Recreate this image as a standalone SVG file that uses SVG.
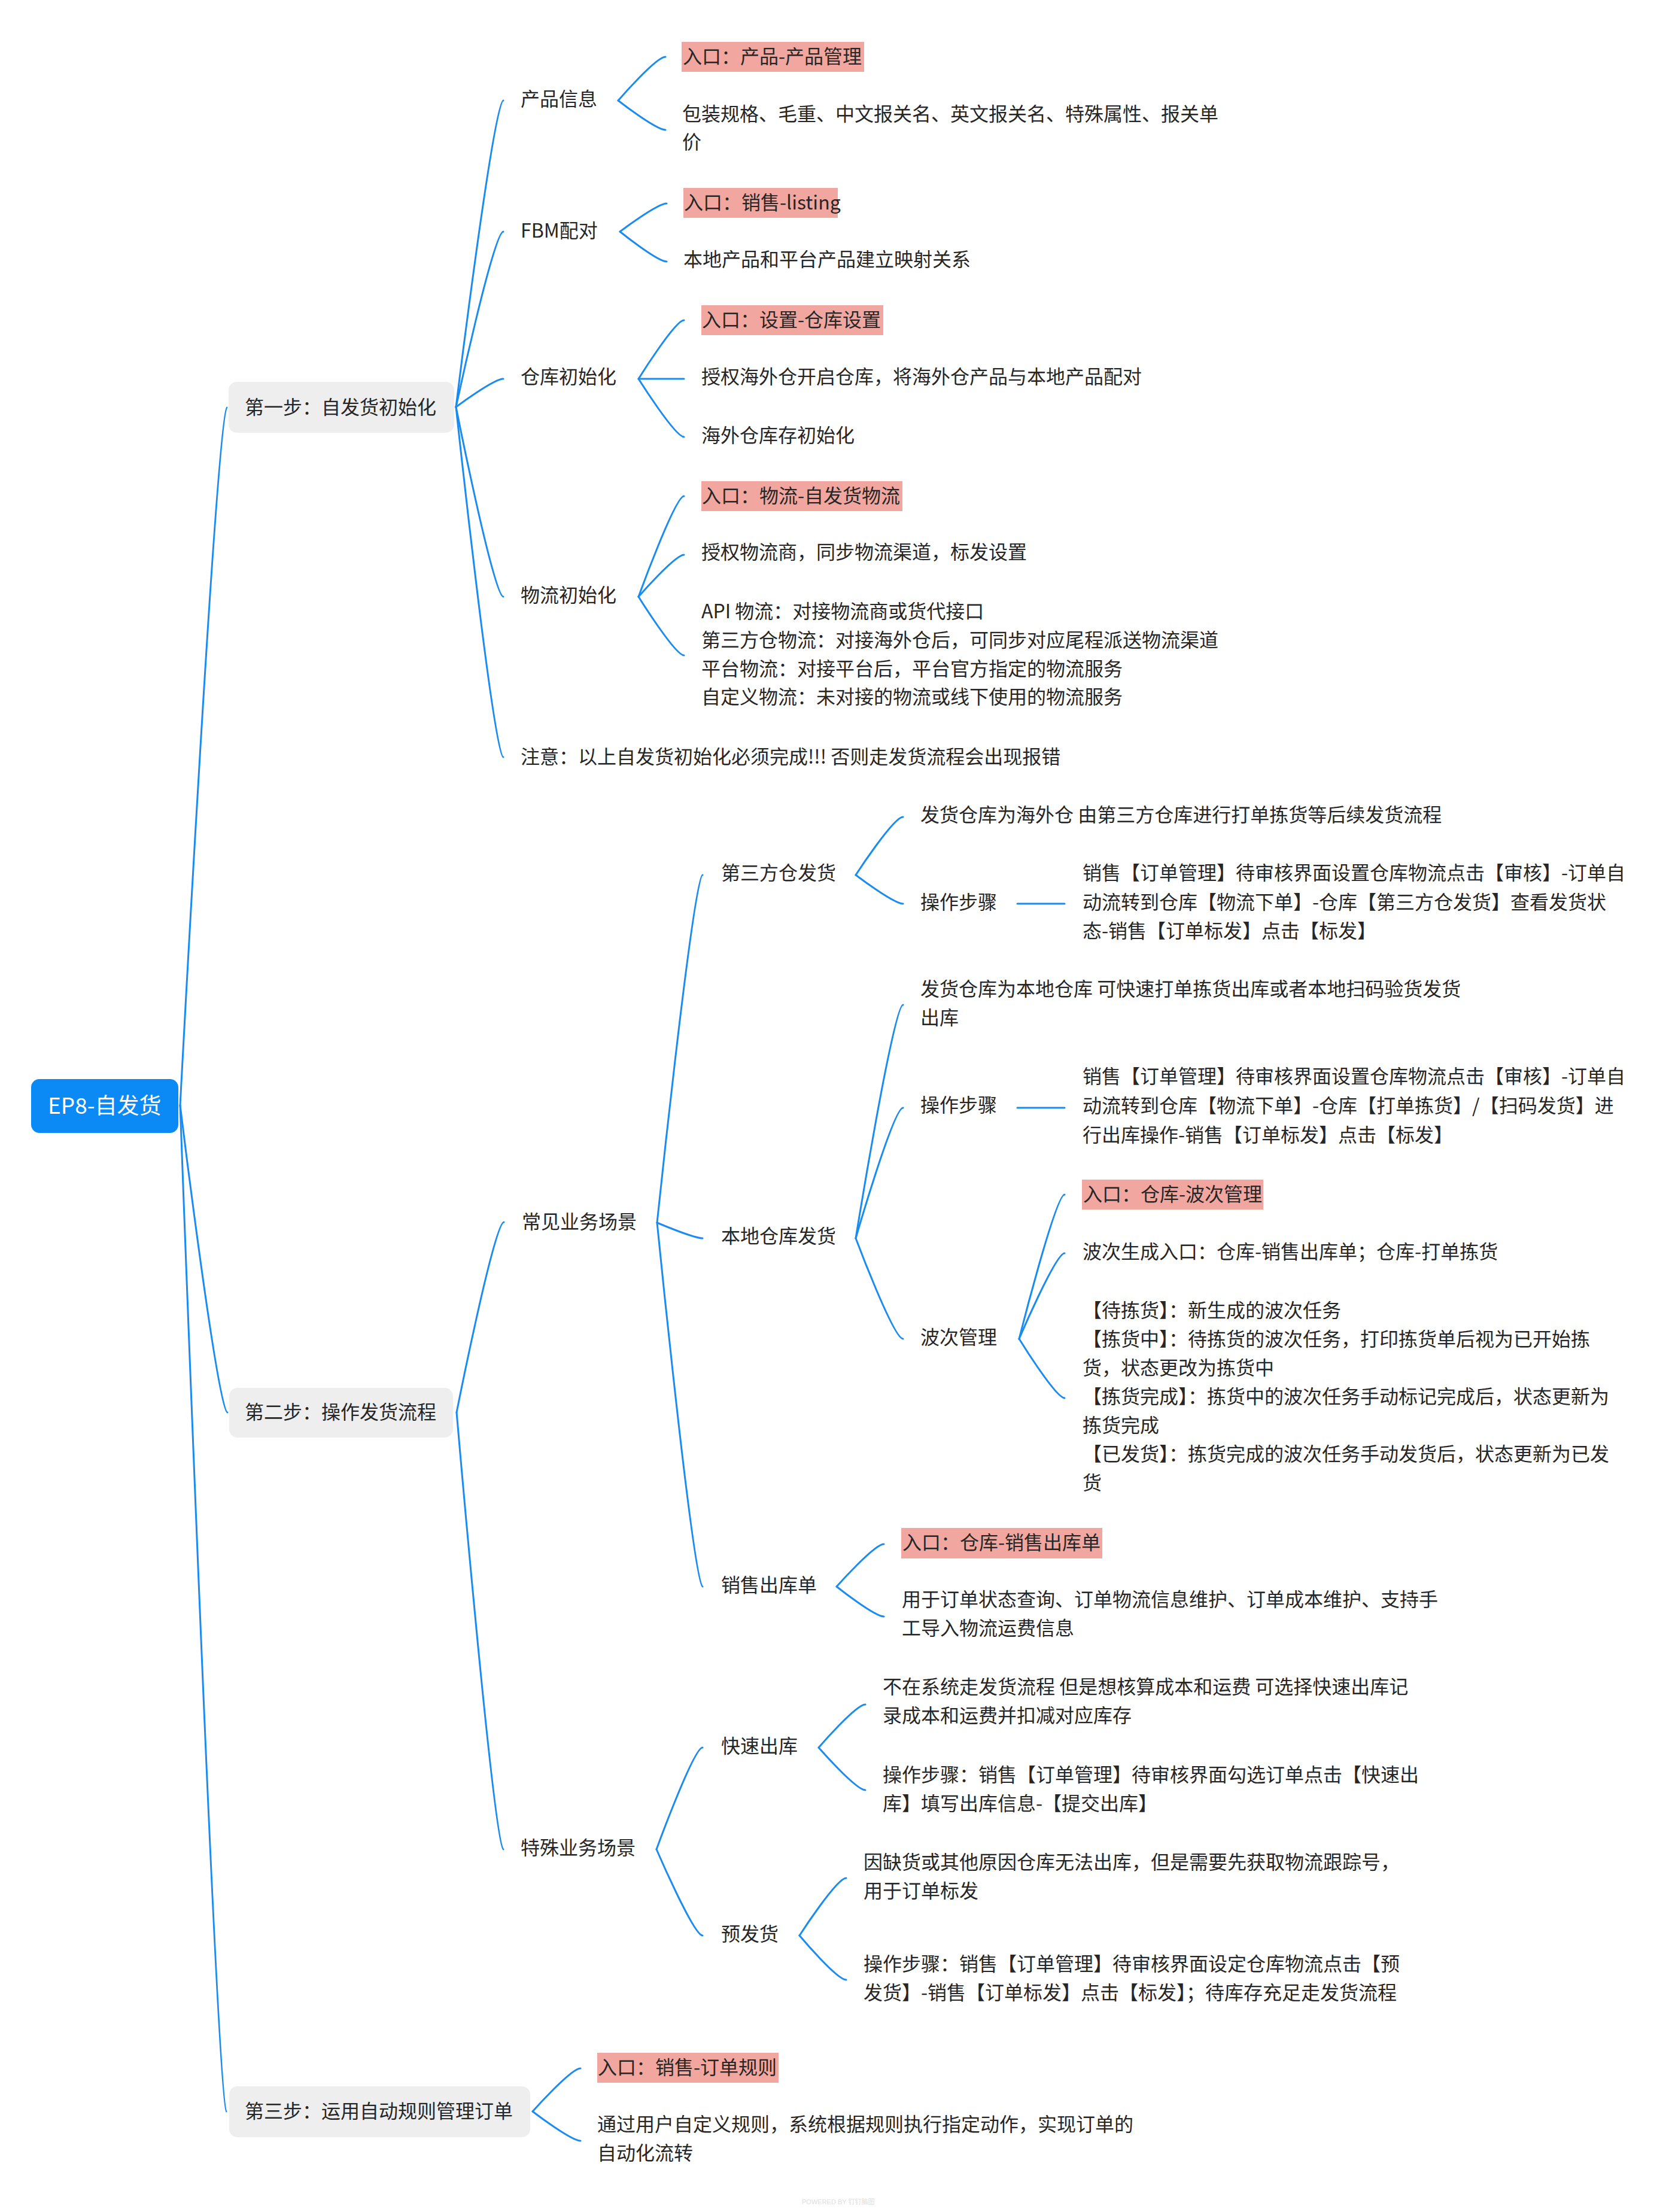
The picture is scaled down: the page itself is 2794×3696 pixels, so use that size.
<svg xmlns="http://www.w3.org/2000/svg" width="2794" height="3696" viewBox="0 0 2794 3696">
<style>
.t{font-family:"Noto Sans CJK SC","Noto Sans",sans-serif;font-size:32px;fill:#262626;dominant-baseline:central;transform:translate(0px,-3px)}
.root{font-family:"Noto Sans CJK SC","Noto Sans",sans-serif;font-size:37px;fill:#ffffff;dominant-baseline:central;transform:translate(0px,-2px)}
.gb{fill:#EEEEEE}
.pk{fill:#F1A79F}
.c{fill:none;stroke:#1A8BF0;stroke-width:3;stroke-linecap:round}
.wm{font-family:"Liberation Sans","Noto Sans CJK SC",sans-serif;font-size:11px;fill:#dedede;dominant-baseline:central}
</style>
<rect width="2794" height="3696" fill="#ffffff"/>
<g id="connectors">
<path class="c" d="M301 1847 C301 1847 363 681 379 681"/>
<path class="c" d="M301 1847 C301 1847 364 2360 380 2360"/>
<path class="c" d="M301 1847 C301 1847 363 3528 378 3528"/>
<path class="c" d="M762 680 C762 680 825 168 841 168"/>
<path class="c" d="M762 680 C762 680 825 387 841 387"/>
<path class="c" d="M762 680 C762 680 825 633 841 633"/>
<path class="c" d="M762 680 C762 680 825 997 841 997"/>
<path class="c" d="M762 680 C762 680 825 1265 841 1265"/>
<path class="c" d="M763 2360 C763 2360 826 2042 842 2042"/>
<path class="c" d="M763 2360 C763 2360 826 3090 841 3090"/>
<path class="c" d="M1098 2043 C1098 2043 1159 1462 1174 1462"/>
<path class="c" d="M1098 2043 C1098 2043 1159 2069 1174 2069"/>
<path class="c" d="M1098 2043 C1098 2043 1159 2651 1174 2651"/>
<path class="c" d="M1097 3090 C1097 3090 1159 2920 1174 2920"/>
<path class="c" d="M1097 3090 C1097 3090 1159 3234 1174 3234"/>
<path class="c" d="M890 3528 C890 3528 954 3456 970 3456"/>
<path class="c" d="M890 3528 C890 3528 954 3577 970 3577"/>
<path class="c" d="M1033 168 C1033 168 1096 95 1112 95"/>
<path class="c" d="M1033 168 C1033 168 1096 217 1112 217"/>
<path class="c" d="M1036 387 C1036 387 1098 340 1114 340"/>
<path class="c" d="M1036 387 C1036 387 1098 437 1114 437"/>
<path class="c" d="M1067 633 C1067 633 1128 535 1143 535"/>
<path class="c" d="M1067 633 L1143 633"/>
<path class="c" d="M1067 633 C1067 633 1128 730 1143 730"/>
<path class="c" d="M1067 997 C1067 997 1128 829 1143 829"/>
<path class="c" d="M1067 997 C1067 997 1128 927 1143 927"/>
<path class="c" d="M1067 997 C1067 997 1128 1095 1143 1095"/>
<path class="c" d="M1430 1462 C1430 1462 1493 1365 1509 1365"/>
<path class="c" d="M1430 1462 C1430 1462 1493 1510 1509 1510"/>
<path class="c" d="M1700 1510 L1779 1510"/>
<path class="c" d="M1430 2069 C1430 2069 1493 1679 1509 1679"/>
<path class="c" d="M1430 2069 C1430 2069 1493 1851 1509 1851"/>
<path class="c" d="M1430 2069 C1430 2069 1493 2237 1509 2237"/>
<path class="c" d="M1700 1851 L1779 1851"/>
<path class="c" d="M1703 2237 C1703 2237 1764 1996 1779 1996"/>
<path class="c" d="M1703 2237 C1703 2237 1764 2094 1779 2094"/>
<path class="c" d="M1703 2237 C1703 2237 1764 2336 1779 2336"/>
<path class="c" d="M1398 2651 C1398 2651 1461 2580 1477 2580"/>
<path class="c" d="M1398 2651 C1398 2651 1461 2701 1477 2701"/>
<path class="c" d="M1368 2920 C1368 2920 1430 2848 1446 2848"/>
<path class="c" d="M1368 2920 C1368 2920 1430 2991 1446 2991"/>
<path class="c" d="M1336 3234 C1336 3234 1398 3138 1414 3138"/>
<path class="c" d="M1336 3234 C1336 3234 1398 3308 1414 3308"/>
</g>
<g id="root">
<rect x="52" y="1803" width="246" height="90" rx="14" fill="#0B8AF6"/>
<text class="root" x="80" y="1847">EP8-自发货</text>
</g>
<g id="step1">
<rect class="gb" x="382" y="638" width="377" height="85" rx="14"/>
<text class="t" x="409" y="681">第一步：自发货初始化</text>
</g>
<g id="step2">
<rect class="gb" x="383" y="2319" width="374" height="83" rx="14"/>
<text class="t" x="409" y="2360">第二步：操作发货流程</text>
</g>
<g id="step3">
<rect class="gb" x="383" y="3486" width="503" height="85" rx="14"/>
<text class="t" x="409" y="3528">第三步：运用自动规则管理订单</text>
</g>
<g id="n-product"><text class="t" x="870" y="166">产品信息</text></g>
<g id="n-fbm"><text class="t" x="870" y="386">FBM配对</text></g>
<g id="n-wh-init"><text class="t" x="870" y="630">仓库初始化</text></g>
<g id="n-log-init"><text class="t" x="870" y="995">物流初始化</text></g>
<g id="n-note"><text class="t" x="870" y="1265">注意：以上自发货初始化必须完成!!! 否则走发货流程会出现报错</text></g>
<g id="n-common"><text class="t" x="872" y="2042">常见业务场景</text></g>
<g id="n-special"><text class="t" x="870" y="3088">特殊业务场景</text></g>
<g id="n-entry-product">
<rect class="pk" x="1139" y="70" width="305" height="50"/>
<text class="t" x="1141" y="95">入口：产品-产品管理</text>
</g>
<g id="n-product-fields">
<text class="t"><tspan x="1140" y="191">包装规格、毛重、中文报关名、英文报关名、特殊属性、报关单</tspan><tspan x="1140" y="238">价</tspan></text>
</g>
<g id="n-entry-listing">
<rect class="pk" x="1142" y="314" width="258" height="50"/>
<text class="t" x="1143" y="339">入口：销售-listing</text>
</g>
<g id="n-mapping"><text class="t" x="1142" y="434">本地产品和平台产品建立映射关系</text></g>
<g id="n-entry-wh">
<rect class="pk" x="1172" y="510" width="304" height="50"/>
<text class="t" x="1173" y="535">入口：设置-仓库设置</text>
</g>
<g id="n-auth-wh"><text class="t" x="1172" y="630">授权海外仓开启仓库，将海外仓产品与本地产品配对</text></g>
<g id="n-wh-stock"><text class="t" x="1172" y="728">海外仓库存初始化</text></g>
<g id="n-entry-log">
<rect class="pk" x="1172" y="804" width="336" height="50"/>
<text class="t" x="1173" y="829">入口：物流-自发货物流</text>
</g>
<g id="n-auth-log"><text class="t" x="1172" y="923">授权物流商，同步物流渠道，标发设置</text></g>
<g id="n-log-types">
<text class="t"><tspan x="1172" y="1022">API 物流：对接物流商或货代接口</tspan><tspan x="1172" y="1070">第三方仓物流：对接海外仓后，可同步对应尾程派送物流渠道</tspan><tspan x="1172" y="1118">平台物流：对接平台后，平台官方指定的物流服务</tspan><tspan x="1172" y="1165">自定义物流：未对接的物流或线下使用的物流服务</tspan></text>
</g>
<g id="n-3pl"><text class="t" x="1205" y="1459">第三方仓发货</text></g>
<g id="n-3pl-desc"><text class="t" x="1538" y="1362">发货仓库为海外仓 由第三方仓库进行打单拣货等后续发货流程</text></g>
<g id="n-3pl-steps"><text class="t" x="1538" y="1508">操作步骤</text></g>
<g id="n-3pl-steps-text">
<text class="t"><tspan x="1809" y="1459">销售【订单管理】待审核界面设置仓库物流点击【审核】-订单自</tspan><tspan x="1809" y="1508">动流转到仓库【物流下单】-仓库【第三方仓发货】查看发货状</tspan><tspan x="1809" y="1556">态-销售【订单标发】点击【标发】</tspan></text>
</g>
<g id="n-local"><text class="t" x="1205" y="2066">本地仓库发货</text></g>
<g id="n-local-desc">
<text class="t"><tspan x="1538" y="1653">发货仓库为本地仓库 可快速打单拣货出库或者本地扫码验货发货</tspan><tspan x="1538" y="1701">出库</tspan></text>
</g>
<g id="n-local-steps"><text class="t" x="1538" y="1847">操作步骤</text></g>
<g id="n-local-steps-text">
<text class="t"><tspan x="1809" y="1799">销售【订单管理】待审核界面设置仓库物流点击【审核】-订单自</tspan><tspan x="1809" y="1848">动流转到仓库【物流下单】-仓库【打单拣货】/【扫码发货】进</tspan><tspan x="1809" y="1897">行出库操作-销售【订单标发】点击【标发】</tspan></text>
</g>
<g id="n-wave"><text class="t" x="1538" y="2235">波次管理</text></g>
<g id="n-entry-wave">
<rect class="pk" x="1808" y="1971" width="303" height="50"/>
<text class="t" x="1810" y="1996">入口：仓库-波次管理</text>
</g>
<g id="n-wave-entry"><text class="t" x="1809" y="2092">波次生成入口：仓库-销售出库单；仓库-打单拣货</text></g>
<g id="n-wave-status">
<text class="t"><tspan x="1809" y="2190">【待拣货】：新生成的波次任务</tspan><tspan x="1809" y="2238">【拣货中】：待拣货的波次任务，打印拣货单后视为已开始拣</tspan><tspan x="1809" y="2286">货，状态更改为拣货中</tspan><tspan x="1809" y="2334">【拣货完成】：拣货中的波次任务手动标记完成后，状态更新为</tspan><tspan x="1809" y="2382">拣货完成</tspan><tspan x="1809" y="2430">【已发货】：拣货完成的波次任务手动发货后，状态更新为已发</tspan><tspan x="1809" y="2478">货</tspan></text>
</g>
<g id="n-outbound"><text class="t" x="1205" y="2649">销售出库单</text></g>
<g id="n-entry-outbound">
<rect class="pk" x="1506" y="2553" width="336" height="51"/>
<text class="t" x="1508" y="2578">入口：仓库-销售出库单</text>
</g>
<g id="n-outbound-desc">
<text class="t"><tspan x="1507" y="2673">用于订单状态查询、订单物流信息维护、订单成本维护、支持手</tspan><tspan x="1507" y="2721">工导入物流运费信息</tspan></text>
</g>
<g id="n-quick"><text class="t" x="1205" y="2918">快速出库</text></g>
<g id="n-quick-desc">
<text class="t"><tspan x="1475" y="2819">不在系统走发货流程 但是想核算成本和运费 可选择快速出库记</tspan><tspan x="1475" y="2867">录成本和运费并扣减对应库存</tspan></text>
</g>
<g id="n-quick-steps">
<text class="t"><tspan x="1475" y="2966">操作步骤：销售【订单管理】待审核界面勾选订单点击【快速出</tspan><tspan x="1475" y="3014">库】填写出库信息-【提交出库】</tspan></text>
</g>
<g id="n-pre"><text class="t" x="1205" y="3232">预发货</text></g>
<g id="n-pre-desc">
<text class="t"><tspan x="1443" y="3112">因缺货或其他原因仓库无法出库，但是需要先获取物流跟踪号，</tspan><tspan x="1443" y="3160">用于订单标发</tspan></text>
</g>
<g id="n-pre-steps">
<text class="t"><tspan x="1443" y="3282">操作步骤：销售【订单管理】待审核界面设定仓库物流点击【预</tspan><tspan x="1443" y="3330">发货】-销售【订单标发】点击【标发】；待库存充足走发货流程</tspan></text>
</g>
<g id="n-entry-rules">
<rect class="pk" x="998" y="3430" width="303" height="50"/>
<text class="t" x="999" y="3455">入口：销售-订单规则</text>
</g>
<g id="n-rules-desc">
<text class="t"><tspan x="998" y="3550">通过用户自定义规则，系统根据规则执行指定动作，实现订单的</tspan><tspan x="998" y="3598">自动化流转</tspan></text>
</g>
<g id="watermark"><text class="wm" x="1340" y="3679">POWERED BY 钉钉脑图</text></g>
</svg>
